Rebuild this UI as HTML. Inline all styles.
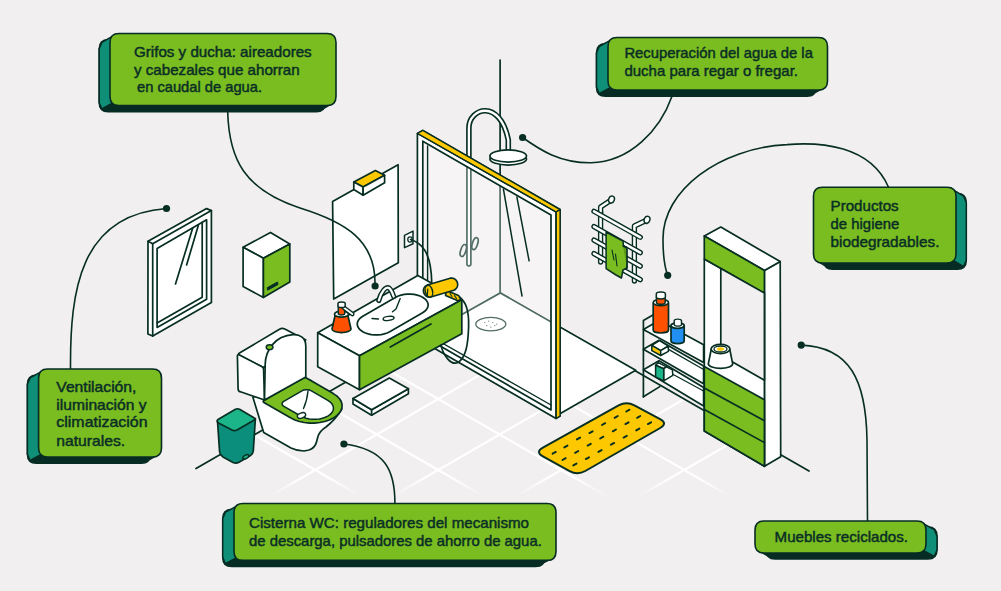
<!DOCTYPE html>
<html><head><meta charset="utf-8"><style>
html,body{margin:0;padding:0;background:#f2eff0;}
svg{display:block;}
text{font-family:"Liberation Sans",sans-serif;font-size:14.6px;fill:#0a2e26;stroke:#0a2e26;stroke-width:0.45px;}
</style></head><body>
<svg width="1001" height="591" viewBox="0 0 1001 591">
<rect width="1001" height="591" fill="#f2eff0"/>
<defs><linearGradient id="fg" x1="0" y1="462" x2="0" y2="497" gradientUnits="userSpaceOnUse"><stop offset="0.45" stop-color="#fff"/><stop offset="1" stop-color="#000"/></linearGradient><mask id="fm" maskUnits="userSpaceOnUse" x="0" y="0" width="1001" height="591"><rect width="1001" height="591" fill="url(#fg)"/></mask><clipPath id="fc"><polygon points="500.3,293 900,523.8 0,581"/></clipPath></defs><g clip-path="url(#fc)"><g stroke="#ffffff" stroke-width="2.2" mask="url(#fm)"><line x1="150" y1="565.4" x2="850" y2="161.3"/><line x1="150" y1="636.4" x2="850" y2="232.3"/><line x1="150" y1="707.4" x2="850" y2="303.3"/><line x1="150" y1="778.4" x2="850" y2="374.3"/><line x1="150" y1="161.6" x2="850" y2="565.7"/><line x1="150" y1="232.6" x2="850" y2="636.7"/><line x1="150" y1="303.6" x2="850" y2="707.7"/><line x1="150" y1="374.6" x2="850" y2="778.7"/></g></g><polyline points="196.0,468.5 500.3,293.0 809.0,471.0" fill="none" stroke="#072e23" stroke-width="1.7" stroke-linejoin="round" stroke-linecap="round" /><polyline points="500.1,60.0 500.1,293.0" fill="none" stroke="#072e23" stroke-width="1.7" stroke-linejoin="round" stroke-linecap="round" /><polygon points="148.0,241.3 206.6,208.6 211.4,210.6 211.4,302.6 152.7,336.1 147.9,333.9" fill="#ffffff" stroke="#072e23" stroke-width="1.7" stroke-linejoin="round" /><polyline points="148.0,241.3 152.7,243.8 211.4,210.6" fill="none" stroke="#072e23" stroke-width="1.7" stroke-linejoin="round" stroke-linecap="round" /><polyline points="152.7,243.8 152.7,336.1" fill="none" stroke="#072e23" stroke-width="1.7" stroke-linejoin="round" stroke-linecap="round" /><polygon points="157.1,248.5 206.6,219.8 206.6,299.2 157.1,327.4" fill="#ffffff" stroke="#072e23" stroke-width="1.7" stroke-linejoin="round" /><polyline points="202.2,222.3 202.2,297.2 157.1,322.9" fill="none" stroke="#072e23" stroke-width="1.7" stroke-linejoin="round" stroke-linecap="round" /><polyline points="192.7,228.0 175.5,284.0" fill="none" stroke="#072e23" stroke-width="1.7" stroke-linejoin="round" stroke-linecap="round" /><polyline points="198.3,225.4 186.6,265.0" fill="none" stroke="#072e23" stroke-width="1.7" stroke-linejoin="round" stroke-linecap="round" /><polygon points="270.5,232.4 243.1,247.3 263.4,258.2 289.8,244.0" fill="#ffffff" stroke="#072e23" stroke-width="1.7" stroke-linejoin="round" /><polygon points="243.1,247.3 263.4,258.2 263.4,297.4 243.1,286.6" fill="#ffffff" stroke="#072e23" stroke-width="1.7" stroke-linejoin="round" /><polygon points="263.4,258.2 289.8,244.0 289.8,281.9 263.4,297.4" fill="#7abd20" stroke="#072e23" stroke-width="1.7" stroke-linejoin="round" /><path d="M267.5,287.5 L277.5,282 L278,284.5 L268,290 Z" fill="#072e23" stroke="#072e23" stroke-width="1" stroke-linejoin="round" stroke-linecap="round" /><polygon points="332.6,201.5 398.1,164.7 398.3,262.7 333.7,299.1" fill="#ffffff" stroke="#072e23" stroke-width="1.7" stroke-linejoin="round" /><polygon points="353.8,182.0 375.4,170.5 384.6,175.2 363.1,187.1" fill="#fdc800" stroke="#072e23" stroke-width="1.7" stroke-linejoin="round" /><polygon points="353.8,182.0 363.1,187.1 363.1,195.2 353.8,189.6" fill="#ffffff" stroke="#072e23" stroke-width="1.7" stroke-linejoin="round" /><polygon points="363.1,187.1 384.6,175.2 384.6,182.8 363.1,195.2" fill="#ffffff" stroke="#072e23" stroke-width="1.7" stroke-linejoin="round" /><polygon points="404.5,235.3 413.0,231.1 413.0,243.8 404.5,247.6" fill="#ffffff" stroke="#072e23" stroke-width="1.5" stroke-linejoin="round" /><ellipse cx="410" cy="239.5" rx="2.2" ry="2.6" transform="rotate(0 410 239.5)" fill="#ffffff" stroke="#072e23" stroke-width="1.3"/><path d="M600.6,212 V262" fill="none" stroke="#072e23" stroke-width="5.3" stroke-linejoin="round" stroke-linecap="round" /><path d="M600.6,212 V262" fill="none" stroke="#ffffff" stroke-width="2.5" stroke-linejoin="round" stroke-linecap="round" /><path d="M634.4,231 V281" fill="none" stroke="#072e23" stroke-width="5.3" stroke-linejoin="round" stroke-linecap="round" /><path d="M634.4,231 V281" fill="none" stroke="#ffffff" stroke-width="2.5" stroke-linejoin="round" stroke-linecap="round" /><path d="M600.6,212 V207 L610.5,200.5" fill="none" stroke="#072e23" stroke-width="5.3" stroke-linejoin="round" stroke-linecap="round" /><path d="M600.6,212 V207 L610.5,200.5" fill="none" stroke="#ffffff" stroke-width="2.5" stroke-linejoin="round" stroke-linecap="round" /><path d="M634.4,231 V226 L646,220.5" fill="none" stroke="#072e23" stroke-width="5.3" stroke-linejoin="round" stroke-linecap="round" /><path d="M634.4,231 V226 L646,220.5" fill="none" stroke="#ffffff" stroke-width="2.5" stroke-linejoin="round" stroke-linecap="round" /><ellipse cx="611.5" cy="199.5" rx="2.8" ry="3.6" transform="rotate(20 611.5 199.5)" fill="#ffffff" stroke="#072e23" stroke-width="1.5"/><ellipse cx="647" cy="219.8" rx="2.8" ry="3.6" transform="rotate(20 647 219.8)" fill="#ffffff" stroke="#072e23" stroke-width="1.5"/><path d="M594,211.3 L640.3,237.3" fill="none" stroke="#072e23" stroke-width="5.3" stroke-linejoin="round" stroke-linecap="round" /><path d="M594,211.3 L640.3,237.3" fill="none" stroke="#ffffff" stroke-width="2.5" stroke-linejoin="round" stroke-linecap="round" /><path d="M594,226.60000000000002 L640.3,252.60000000000002" fill="none" stroke="#072e23" stroke-width="5.3" stroke-linejoin="round" stroke-linecap="round" /><path d="M594,226.60000000000002 L640.3,252.60000000000002" fill="none" stroke="#ffffff" stroke-width="2.5" stroke-linejoin="round" stroke-linecap="round" /><path d="M594,240.10000000000002 L640.3,266.1" fill="none" stroke="#072e23" stroke-width="5.3" stroke-linejoin="round" stroke-linecap="round" /><path d="M594,240.10000000000002 L640.3,266.1" fill="none" stroke="#ffffff" stroke-width="2.5" stroke-linejoin="round" stroke-linecap="round" /><path d="M594,253.60000000000002 L640.3,279.6" fill="none" stroke="#072e23" stroke-width="5.3" stroke-linejoin="round" stroke-linecap="round" /><path d="M594,253.60000000000002 L640.3,279.6" fill="none" stroke="#ffffff" stroke-width="2.5" stroke-linejoin="round" stroke-linecap="round" /><path d="M606.1,232 L623,241 L623.5,246 L626.5,247.5 L627,268 L623,270 L621.4,278 L616,275 L606.1,268.6 Z" fill="#7abd20" stroke="#072e23" stroke-width="1.5" stroke-linejoin="round" stroke-linecap="round" /><path d="M623,246 L627,248 L627,268" fill="#5a9a18" stroke="#072e23" stroke-width="1.5" stroke-linejoin="round" stroke-linecap="round" /><polyline points="612.0,250.0 614.0,260.0" fill="none" stroke="#072e23" stroke-width="1.1" stroke-linejoin="round" stroke-linecap="round" /><polyline points="615.5,254.0 617.0,266.0" fill="none" stroke="#072e23" stroke-width="1.1" stroke-linejoin="round" stroke-linecap="round" /><polygon points="500.3,293.0 635.7,370.2 556.0,416.0 420.0,338.0" fill="#ffffff" stroke="#072e23" stroke-width="1.7" stroke-linejoin="round" /><path d="M468.9,264 V128 C468.9,108 500,98 508.3,140 V156" fill="none" stroke="#072e23" stroke-width="5.6" stroke-linejoin="round" stroke-linecap="round" /><path d="M468.9,264 V128 C468.9,108 500,98 508.3,140 V156" fill="none" stroke="#ffffff" stroke-width="2.3" stroke-linejoin="round" stroke-linecap="round" /><ellipse cx="508.2" cy="159" rx="18.3" ry="6.1" transform="rotate(0 508.2 159)" fill="#ffffff" stroke="#072e23" stroke-width="1.7"/><ellipse cx="508.2" cy="156" rx="18.3" ry="6.1" transform="rotate(0 508.2 156)" fill="#ffffff" stroke="#072e23" stroke-width="1.7"/><ellipse cx="463.3" cy="250.5" rx="2.6" ry="6.2" transform="rotate(18 463.3 250.5)" fill="none" stroke="#072e23" stroke-width="1.7"/><ellipse cx="475" cy="243.6" rx="2.6" ry="6.2" transform="rotate(18 475 243.6)" fill="none" stroke="#072e23" stroke-width="1.7"/><ellipse cx="490.8" cy="324.1" rx="15" ry="6.8" transform="rotate(0 490.8 324.1)" fill="#ffffff" stroke="#072e23" stroke-width="1.3"/><circle cx="484.8" cy="322.6" r="0.6" fill="#072e23"/><circle cx="488.8" cy="321.1" r="0.6" fill="#072e23"/><circle cx="492.8" cy="322.6" r="0.6" fill="#072e23"/><circle cx="496.8" cy="324.1" r="0.6" fill="#072e23"/><circle cx="486.8" cy="325.6" r="0.6" fill="#072e23"/><circle cx="490.8" cy="327.1" r="0.6" fill="#072e23"/><circle cx="494.8" cy="325.6" r="0.6" fill="#072e23"/><polygon points="422.8,141.2 551.0,215.0 551.0,410.0 422.8,336.0" fill="#ffffff" fill-opacity="0.3"/><path d="M417.4,133.5 L422.8,130.4 L560.1,209.6 L560.1,416.0 L556.0,418.5 L417.4,338.5 Z M422.8,141.2 L551.0,215.0 L551.0,410.0 L422.8,336.0 Z" fill="#fff" fill-rule="evenodd" stroke="#072e23" stroke-width="1.7" stroke-linejoin="round"/><polygon points="417.4,133.5 422.8,130.4 560.1,209.6 556.0,212.0" fill="#fdc800" stroke="#072e23" stroke-width="1.4" stroke-linejoin="round" /><polygon points="556.0,212.0 560.1,209.6 560.1,416.0 556.0,418.5" fill="#fdc800" stroke="#072e23" stroke-width="1.4" stroke-linejoin="round" /><polyline points="417.4,133.5 556.0,212.0 556.0,418.5" fill="none" stroke="#072e23" stroke-width="1.4" stroke-linejoin="round" stroke-linecap="round" /><polyline points="427.6,146.0 427.6,338.0" fill="none" stroke="#072e23" stroke-width="1.4" stroke-linejoin="round" stroke-linecap="round" /><polyline points="422.8,332.0 551.0,405.0" fill="none" stroke="#072e23" stroke-width="1.4" stroke-linejoin="round" stroke-linecap="round" /><polyline points="503.4,189.0 522.0,296.0" fill="none" stroke="#072e23" stroke-width="1.5" stroke-linejoin="round" stroke-linecap="round" /><polyline points="516.9,197.1 529.1,260.8" fill="none" stroke="#072e23" stroke-width="1.5" stroke-linejoin="round" stroke-linecap="round" /><polyline points="643.4,396.8 643.4,320.6 659.0,311.6" fill="none" stroke="#072e23" stroke-width="1.7" stroke-linejoin="round" stroke-linecap="round" /><polyline points="643.4,396.8 659.8,386.6" fill="none" stroke="#072e23" stroke-width="1.7" stroke-linejoin="round" stroke-linecap="round" /><polygon points="643.4,329.5 659.0,320.5 703.6,344.7 703.6,362.4" fill="#ffffff" stroke="#072e23" stroke-width="1.7" stroke-linejoin="round" /><polygon points="643.4,349.3 659.0,340.3 703.6,366.0 703.6,383.8" fill="#ffffff" stroke="#072e23" stroke-width="1.7" stroke-linejoin="round" /><polygon points="643.4,369.8 659.0,360.8 703.6,387.5 703.6,406.0" fill="#ffffff" stroke="#072e23" stroke-width="1.7" stroke-linejoin="round" /><polyline points="669.0,349.6 703.6,369.5" fill="none" stroke="#072e23" stroke-width="1.3" stroke-linejoin="round" stroke-linecap="round" /><polyline points="672.8,374.3 703.6,391.0" fill="none" stroke="#072e23" stroke-width="1.3" stroke-linejoin="round" stroke-linecap="round" /><path d="M653.2,303.5 V330 A7.65,3 0 0 0 668.5,330 V303.5 Z" fill="#fd5000" stroke="#072e23" stroke-width="1.7" stroke-linejoin="round" stroke-linecap="round" /><ellipse cx="660.85" cy="302.5" rx="7.65" ry="3.2" transform="rotate(0 660.85 302.5)" fill="#ffffff" stroke="#072e23" stroke-width="1.7"/><path d="M656.5,302.5 V297 H665.2 V302.5 A4.35,1.8 0 0 1 656.5,302.5 Z" fill="#fd5000" stroke="#072e23" stroke-width="1.5" stroke-linejoin="round" stroke-linecap="round" /><path d="M656.3,297 V294 A4.55,1.9 0 0 1 665.4,294 V297 A4.55,1.9 0 0 1 656.3,297 Z" fill="#ffffff" stroke="#072e23" stroke-width="1.5" stroke-linejoin="round" stroke-linecap="round" /><path d="M671,326 V341 A6.6,2.6 0 0 0 684.2,341 V326 Z" fill="#2290f2" stroke="#072e23" stroke-width="1.7" stroke-linejoin="round" stroke-linecap="round" /><ellipse cx="677.6" cy="325.6" rx="6.6" ry="2.8" transform="rotate(0 677.6 325.6)" fill="#ffffff" stroke="#072e23" stroke-width="1.7"/><path d="M674.2,324.8 V320.5 A3.7,1.6 0 0 1 681.5,320.5 V324.8 A3.7,1.6 0 0 1 674.2,324.8 Z" fill="#ffffff" stroke="#072e23" stroke-width="1.4" stroke-linejoin="round" stroke-linecap="round" /><polygon points="651.8,345.4 659.5,340.7 668.4,346.0 660.7,350.7" fill="#ffffff" stroke="#072e23" stroke-width="1.5" stroke-linejoin="round" /><polygon points="651.8,345.4 660.7,350.7 660.7,355.5 651.8,350.7" fill="#fdc800" stroke="#072e23" stroke-width="1.5" stroke-linejoin="round" /><polygon points="660.7,350.7 668.4,346.0 668.4,351.3 660.7,355.5" fill="#ffffff" stroke="#072e23" stroke-width="1.5" stroke-linejoin="round" /><polygon points="655.6,365.2 658.3,362.6 666.5,366.8 663.7,368.7" fill="#ffffff" stroke="#072e23" stroke-width="1.5" stroke-linejoin="round" /><polygon points="663.7,368.7 666.5,366.8 672.4,369.8 672.8,375.4 663.7,380.9" fill="#ffffff" stroke="#072e23" stroke-width="1.5" stroke-linejoin="round" /><polygon points="655.6,365.2 663.7,368.7 663.7,380.9 655.6,376.8" fill="#1cb58a" stroke="#072e23" stroke-width="1.5" stroke-linejoin="round" /><polygon points="764.4,270.4 780.2,261.6 780.7,456.8 764.5,466.3" fill="#ffffff" stroke="#072e23" stroke-width="1.7" stroke-linejoin="round" /><polygon points="704.3,235.9 720.8,227.1 780.2,261.6 764.4,270.4" fill="#ffffff" stroke="#072e23" stroke-width="1.7" stroke-linejoin="round" /><polygon points="704.3,259.0 764.4,293.1 764.4,466.3 704.3,431.0" fill="#ffffff" stroke="#072e23" stroke-width="1.7" stroke-linejoin="round" /><polygon points="704.3,235.9 764.4,270.4 764.4,293.1 704.3,259.0" fill="#7abd20" stroke="#072e23" stroke-width="1.7" stroke-linejoin="round" /><polygon points="720.8,268.4 764.4,293.1 764.4,380.3 720.8,355.3" fill="#f2eff0" stroke="#072e23" stroke-width="1.7" stroke-linejoin="round"/><polygon points="704.3,366.5 764.4,399.7 764.4,466.3 704.3,431.0" fill="#7abd20" stroke="#072e23" stroke-width="1.7" stroke-linejoin="round" /><polyline points="704.3,388.0 764.4,420.7" fill="none" stroke="#072e23" stroke-width="1.7" stroke-linejoin="round" stroke-linecap="round" /><polyline points="704.3,409.6 764.4,442.6" fill="none" stroke="#072e23" stroke-width="1.7" stroke-linejoin="round" stroke-linecap="round" /><path d="M711.3,349 L708.3,363.8 A12.2,4.5 0 0 0 732.7,363.8 L729.7,349 Z" fill="#ffffff" stroke="#072e23" stroke-width="1.7" stroke-linejoin="round" stroke-linecap="round" /><ellipse cx="720.5" cy="349" rx="9.4" ry="4.6" transform="rotate(0 720.5 349)" fill="#ffffff" stroke="#072e23" stroke-width="1.7"/><ellipse cx="720.5" cy="349" rx="6.5" ry="3.0" transform="rotate(0 720.5 349)" fill="#ffffff" stroke="#072e23" stroke-width="1.3"/><ellipse cx="720.5" cy="349" rx="3.6" ry="1.8" transform="rotate(0 720.5 349)" fill="#fdc800" stroke="none" stroke-width="1.7"/><path d="M542.9,456.4 Q535.0,452.0 542.9,447.6 L618.6,405.4 Q626.5,401.0 634.4,405.3 L660.1,419.2 Q668.0,423.5 660.2,428.0 L585.3,471.0 Q577.5,475.5 569.6,471.1 Z" fill="#fdc800" stroke="#072e23" stroke-width="1.9" stroke-linejoin="round" stroke-linecap="round" /><polyline points="626.3,411.5 629.5,409.7" fill="none" stroke="#072e23" stroke-width="1.9" stroke-linejoin="round" stroke-linecap="round" /><polyline points="614.6,417.8 617.8,416.0" fill="none" stroke="#072e23" stroke-width="1.9" stroke-linejoin="round" stroke-linecap="round" /><polyline points="602.0,425.0 605.2,423.2" fill="none" stroke="#072e23" stroke-width="1.9" stroke-linejoin="round" stroke-linecap="round" /><polyline points="589.4,433.1 592.6,431.3" fill="none" stroke="#072e23" stroke-width="1.9" stroke-linejoin="round" stroke-linecap="round" /><polyline points="576.9,439.4 580.1,437.6" fill="none" stroke="#072e23" stroke-width="1.9" stroke-linejoin="round" stroke-linecap="round" /><polyline points="564.3,447.4 567.5,445.6" fill="none" stroke="#072e23" stroke-width="1.9" stroke-linejoin="round" stroke-linecap="round" /><polyline points="552.6,453.7 555.8,451.9" fill="none" stroke="#072e23" stroke-width="1.9" stroke-linejoin="round" stroke-linecap="round" /><polyline points="637.1,417.8 640.3,416.0" fill="none" stroke="#072e23" stroke-width="1.9" stroke-linejoin="round" stroke-linecap="round" /><polyline points="625.4,424.1 628.6,422.3" fill="none" stroke="#072e23" stroke-width="1.9" stroke-linejoin="round" stroke-linecap="round" /><polyline points="612.8,431.3 616.0,429.5" fill="none" stroke="#072e23" stroke-width="1.9" stroke-linejoin="round" stroke-linecap="round" /><polyline points="600.2,438.5 603.4,436.7" fill="none" stroke="#072e23" stroke-width="1.9" stroke-linejoin="round" stroke-linecap="round" /><polyline points="587.6,445.6 590.8,443.8" fill="none" stroke="#072e23" stroke-width="1.9" stroke-linejoin="round" stroke-linecap="round" /><polyline points="575.1,452.8 578.3,451.0" fill="none" stroke="#072e23" stroke-width="1.9" stroke-linejoin="round" stroke-linecap="round" /><polyline points="562.5,460.0 565.7,458.2" fill="none" stroke="#072e23" stroke-width="1.9" stroke-linejoin="round" stroke-linecap="round" /><polyline points="647.9,424.1 651.1,422.3" fill="none" stroke="#072e23" stroke-width="1.9" stroke-linejoin="round" stroke-linecap="round" /><polyline points="636.2,430.4 639.4,428.6" fill="none" stroke="#072e23" stroke-width="1.9" stroke-linejoin="round" stroke-linecap="round" /><polyline points="623.6,437.6 626.8,435.8" fill="none" stroke="#072e23" stroke-width="1.9" stroke-linejoin="round" stroke-linecap="round" /><polyline points="611.0,444.7 614.2,442.9" fill="none" stroke="#072e23" stroke-width="1.9" stroke-linejoin="round" stroke-linecap="round" /><polyline points="598.4,451.9 601.6,450.1" fill="none" stroke="#072e23" stroke-width="1.9" stroke-linejoin="round" stroke-linecap="round" /><polyline points="585.8,459.1 589.0,457.3" fill="none" stroke="#072e23" stroke-width="1.9" stroke-linejoin="round" stroke-linecap="round" /><polyline points="573.3,465.4 576.5,463.6" fill="none" stroke="#072e23" stroke-width="1.9" stroke-linejoin="round" stroke-linecap="round" /><path d="M217.5,421 L219.6,452 Q220,455 223,457 L233,462.5 Q236,464 239,462.3 L250.5,455.5 Q253,454 253.3,451 L255.4,418.5 Z" fill="#0c8e7c" stroke="#072e23" stroke-width="1.7" stroke-linejoin="round" stroke-linecap="round" /><path d="M218,419.5 Q216,421 218.5,423 L232,430 Q234.5,431.3 237,430 L253.5,420.5 Q256,419 253.5,417.5 L240,409.5 Q237.5,408 235,409.5 Z" fill="#1cb58a" stroke="#072e23" stroke-width="1.7" stroke-linejoin="round" stroke-linecap="round" /><ellipse cx="245.8" cy="456.8" rx="3.2" ry="1.7" transform="rotate(-28 245.8 456.8)" fill="#1cb58a" stroke="#072e23" stroke-width="1.4"/><path d="M252.9,397.3 L263.7,432.6 L291,448 Q297,451 304,451 L309,450 Q315,448 316.5,442 L317.8,437 Q319.5,431 326,427 Q336,419 341.8,409 L310,380 Z" fill="#ffffff" stroke="#072e23" stroke-width="1.7" stroke-linejoin="round" stroke-linecap="round" /><polygon points="263.9,402.5 263.5,402.1 263.2,401.7 263.2,401.3 263.5,400.9 263.9,400.5 302.9,378.0 303.5,377.7 304.3,377.6 305.0,377.6 305.7,377.7 306.4,378.0 333.3,393.6 336.7,395.9 339.3,398.5 341.1,401.3 342.0,404.3 342.0,407.3 341.1,410.3 339.3,413.1 336.7,415.7 333.3,418.1 329.3,420.0 324.8,421.5 319.8,422.5 314.7,423.1 309.5,423.1 304.3,422.5 299.4,421.5 294.9,420.0 290.9,418.1" fill="#7abd20" stroke="#072e23" stroke-width="1.7" stroke-linejoin="round" /><polygon points="283.9,406.3 282.7,405.4 282.1,404.4 282.1,403.2 282.7,402.2 283.8,401.3 302.3,390.6 303.8,390.0 305.7,389.7 307.6,389.7 309.4,390.0 311.0,390.6 327.8,400.4 330.0,401.9 331.7,403.5 332.8,405.4 333.4,407.3 333.4,409.2 332.8,411.1 331.7,412.9 330.0,414.6 327.8,416.1 325.3,417.3 322.4,418.3 319.3,418.9 316.0,419.2 312.6,419.2 309.3,418.9 306.2,418.3 303.3,417.3 300.7,416.0" fill="#ffffff" stroke="#072e23" stroke-width="1.5" stroke-linejoin="round" /><path d="M308,391 Q307,401 303.5,408.5" fill="none" stroke="#072e23" stroke-width="1.4" stroke-linejoin="round" stroke-linecap="round" /><ellipse cx="301.5" cy="415.5" rx="4.3" ry="2.5" transform="rotate(-20 301.5 415.5)" fill="#ffffff" stroke="#072e23" stroke-width="1.4"/><path d="M239.5,353 L279.5,329.2 Q282.1,327.7 284.8,329.1 L305.8,339.9 L263.5,367.5 L240,355.4 Q237.4,354.1 239.5,353 Z" fill="#ffffff" stroke="#072e23" stroke-width="1.7" stroke-linejoin="round" stroke-linecap="round" /><path d="M237.4,356 Q237.4,354.1 239.5,355 L262,366.8 Q263.5,367.5 263.6,369.5 L264.5,400 L240.5,391.8 Q238.1,391.3 238.1,389 Z" fill="#ffffff" stroke="#072e23" stroke-width="1.7" stroke-linejoin="round" stroke-linecap="round" /><path d="M264.5,400 L265.2,364.3 C265.5,350 275,336 292.9,334.7 C300,334.2 305.8,338 305.8,346 L305.8,377 Z" fill="#ffffff" stroke="#072e23" stroke-width="1.7" stroke-linejoin="round" stroke-linecap="round" /><ellipse cx="269.6" cy="347.2" rx="3.4" ry="2.4" transform="rotate(0 269.6 347.2)" fill="#7abd20" stroke="#072e23" stroke-width="1.4"/><polygon points="317.7,332.7 359.5,355.8 461.8,299.7 417.8,275.5" fill="#ffffff" stroke="#072e23" stroke-width="1.7" stroke-linejoin="round" /><polygon points="317.7,332.7 359.5,355.8 359.5,389.7 317.7,366.8" fill="#ffffff" stroke="#072e23" stroke-width="1.7" stroke-linejoin="round" /><polygon points="359.5,355.8 461.8,299.7 461.8,333.8 359.5,389.7" fill="#7abd20" stroke="#072e23" stroke-width="1.7" stroke-linejoin="round" /><polyline points="390.3,347.0 431.0,323.9" fill="none" stroke="#072e23" stroke-width="1.7" stroke-linejoin="round" stroke-linecap="round" /><polygon points="395.7,297.2 398.3,296.0 401.1,295.1 404.2,294.4 407.5,294.1 410.8,294.1 414.1,294.4 417.2,295.1 420.0,296.0 422.6,297.2 424.7,298.7 426.4,300.4 427.5,302.2 428.1,304.0 428.1,306.0 427.5,307.8 426.4,309.6 424.7,311.3 422.6,312.8 389.7,331.8 387.1,333.0 384.3,333.9 381.2,334.6 377.9,334.9 374.6,334.9 371.3,334.6 368.2,333.9 365.4,333.0 362.8,331.8 360.7,330.3 359.0,328.6 357.9,326.8 357.3,325.0 357.3,323.0 357.9,321.2 359.0,319.4 360.7,317.7 362.8,316.2" fill="#ffffff" stroke="#072e23" stroke-width="1.7" stroke-linejoin="round" /><polyline points="400.2,298.6 396.0,309.0 392.5,311.8" fill="none" stroke="#072e23" stroke-width="1.4" stroke-linejoin="round" stroke-linecap="round" /><ellipse cx="388.6" cy="318.4" rx="5.5" ry="2" transform="rotate(-8 388.6 318.4)" fill="none" stroke="#072e23" stroke-width="1.4"/><polyline points="372.0,318.5 378.5,319.0" fill="none" stroke="#072e23" stroke-width="1.4" stroke-linejoin="round" stroke-linecap="round" /><path d="M378.8,300.5 C381,292 386,286 389,288 C391,289.5 392.5,293 393.7,296.5" fill="none" stroke="#072e23" stroke-width="5.2" stroke-linejoin="round" stroke-linecap="round" /><path d="M378.8,300.5 C381,292 386,286 389,288 C391,289.5 392.5,293 393.7,296.5" fill="none" stroke="#ffffff" stroke-width="2.2" stroke-linejoin="round" stroke-linecap="round" /><path d="M335.2,315 L332,329 A9.5,3.6 0 0 0 351,329 L347.8,315 Z" fill="#fd5000" stroke="#072e23" stroke-width="1.7" stroke-linejoin="round" stroke-linecap="round" /><ellipse cx="341.5" cy="314.2" rx="7" ry="3.0" transform="rotate(0 341.5 314.2)" fill="#ffffff" stroke="#072e23" stroke-width="1.7"/><path d="M338.3,313.5 V306 H344.7 V313.5 A3.2,1.4 0 0 1 338.3,313.5 Z" fill="#fd5000" stroke="#072e23" stroke-width="1.5" stroke-linejoin="round" stroke-linecap="round" /><path d="M344,307.8 L352.3,314" fill="none" stroke="#072e23" stroke-width="4.6" stroke-linejoin="round" stroke-linecap="round" /><path d="M344,307.8 L352.3,314" fill="none" stroke="#ffffff" stroke-width="1.8" stroke-linejoin="round" stroke-linecap="round" /><path d="M338,306 V303.5 A3.6,1.6 0 0 1 345.2,303.5 V306 A3.6,1.6 0 0 1 338,306 Z" fill="#ffffff" stroke="#072e23" stroke-width="1.5" stroke-linejoin="round" stroke-linecap="round" /><path d="M410.5,239.5 C422,243 431,252 431.7,282" fill="none" stroke="#072e23" stroke-width="1.7" stroke-linejoin="round" stroke-linecap="round" /><path d="M446.5,290.5 L458.5,295.5 L461.5,299 L458,300.8 L445.5,295.5 Z" fill="#fdc800" stroke="#072e23" stroke-width="1.6" stroke-linejoin="round" stroke-linecap="round" /><polyline points="450.0,293.5 452.0,296.5" fill="none" stroke="#072e23" stroke-width="1.1" stroke-linejoin="round" stroke-linecap="round" /><polyline points="454.5,295.5 456.5,298.5" fill="none" stroke="#072e23" stroke-width="1.1" stroke-linejoin="round" stroke-linecap="round" /><path d="M427.2,285 L450.2,278.2 A6.3,6.3 0 0 1 453.8,290.2 L430.8,297 A6.3,6.3 0 0 1 427.2,285 Z" fill="#fdc800" stroke="#072e23" stroke-width="1.7" stroke-linejoin="round" stroke-linecap="round" /><ellipse cx="428.9" cy="291.2" rx="3.6" ry="6.0" transform="rotate(-16 428.9 291.2)" fill="#fdc800" stroke="#072e23" stroke-width="1.5"/><polyline points="427.8,289.0 427.3,295.5" fill="none" stroke="#072e23" stroke-width="1.2" stroke-linejoin="round" stroke-linecap="round" /><path d="M459.5,297.5 C467,302 469,315 468.6,327 C468,345 466,357 458,362.5 C451,366 443,355 441,345.2" fill="none" stroke="#072e23" stroke-width="1.7" stroke-linejoin="round" stroke-linecap="round" /><polygon points="353.0,398.5 353.0,404.1 371.6,415.2 408.4,393.8 408.4,388.7 371.6,409.7" fill="#ffffff" stroke="#072e23" stroke-width="1.7" stroke-linejoin="round" /><polygon points="353.0,398.5 389.3,378.0 408.4,388.7 371.6,409.7" fill="#ffffff" stroke="#072e23" stroke-width="1.7" stroke-linejoin="round" /><polyline points="371.6,409.7 371.6,415.2" fill="none" stroke="#072e23" stroke-width="1.7" stroke-linejoin="round" stroke-linecap="round" /><path d="M227.7,112 C229,160 245,190 300,208 C345,222 376,240 375,285" fill="none" stroke="#072e23" stroke-width="1.6" stroke-linecap="round" stroke-linejoin="round"/><circle cx="375.1" cy="286" r="3.6" fill="#072e23"/><path d="M671.9,96.5 C660,130 630,162 591,162.7 C560,163 540,150 522.6,137.5" fill="none" stroke="#072e23" stroke-width="1.6" stroke-linecap="round" stroke-linejoin="round"/><circle cx="522.6" cy="137.5" r="3.6" fill="#072e23"/><path d="M888.4,187 C870,145 820,142 787,144.6 C720,148 662,190 663,240 C663,255 665,268 667.7,275.3" fill="none" stroke="#072e23" stroke-width="1.6" stroke-linecap="round" stroke-linejoin="round"/><circle cx="667.7" cy="275.3" r="3.6" fill="#072e23"/><path d="M70.5,369 C70,290 80,215 166.5,208.5" fill="none" stroke="#072e23" stroke-width="1.6" stroke-linecap="round" stroke-linejoin="round"/><circle cx="166.5" cy="208.5" r="3.6" fill="#072e23"/><path d="M394.9,503.5 C395,470 385,449 343.9,444" fill="none" stroke="#072e23" stroke-width="1.6" stroke-linecap="round" stroke-linejoin="round"/><circle cx="343.9" cy="444" r="3.6" fill="#072e23"/><path d="M867.5,521 L867,440 C866,380 850,347 801.2,345.1" fill="none" stroke="#072e23" stroke-width="1.6" stroke-linecap="round" stroke-linejoin="round"/><circle cx="801.2" cy="345.1" r="3.6" fill="#072e23"/><g><path d="M108.2,39.7 H316.2 Q325.2,39.7 325.2,48.7 V102.7 Q325.2,111.7 316.2,111.7 H108.2 Q99.2,111.7 99.2,102.7 V48.7 Q99.2,39.7 108.2,39.7 Z" fill="#062c24" stroke="#062c24" stroke-width="1.5"/><polygon points="112.7,102.8 333.3,102.8 322.5,109.0 101.9,109.0" fill="#062c24" stroke="#062c24" stroke-width="1.5" stroke-linejoin="round"/><polygon points="112.7,36.2 101.9,42.400000000000006 99.2,48.7 99.2,102.7 101.9,109.0 112.7,102.8" fill="#0f8e78" stroke="#062c24" stroke-width="1.5" stroke-linejoin="round"/><path d="M119,33.5 H327 Q336,33.5 336,42.5 V96.5 Q336,105.5 327,105.5 H119 Q110,105.5 110,96.5 V42.5 Q110,33.5 119,33.5 Z" fill="#7abd20" stroke="#062c24" stroke-width="1.6"/><text x="134" y="57" textLength="177.7" lengthAdjust="spacingAndGlyphs">Grifos&#160;y&#160;ducha:&#160;aireadores</text><text x="134" y="74.5" textLength="165.7" lengthAdjust="spacingAndGlyphs">y&#160;cabezales&#160;que&#160;ahorran</text><text x="137" y="92" textLength="125" lengthAdjust="spacingAndGlyphs">en&#160;caudal&#160;de&#160;agua.</text></g><g><path d="M605.5,43.8 H807.0 Q816.0,43.8 816.0,52.8 V87.3 Q816.0,96.3 807.0,96.3 H605.5 Q596.5,96.3 596.5,87.3 V52.8 Q596.5,43.8 605.5,43.8 Z" fill="#062c24" stroke="#062c24" stroke-width="1.5"/><polygon points="610.7,87.3 824.8,87.3 813.3,93.6 599.2,93.6" fill="#062c24" stroke="#062c24" stroke-width="1.5" stroke-linejoin="round"/><polygon points="610.7,40.2 599.2,46.5 596.5,52.8 596.5,87.3 599.2,93.6 610.7,87.3" fill="#0f8e78" stroke="#062c24" stroke-width="1.5" stroke-linejoin="round"/><path d="M617,37.5 H818.5 Q827.5,37.5 827.5,46.5 V81.0 Q827.5,90.0 818.5,90.0 H617 Q608,90.0 608,81.0 V46.5 Q608,37.5 617,37.5 Z" fill="#7abd20" stroke="#062c24" stroke-width="1.6"/><text x="624.4" y="58.3" textLength="188.5" lengthAdjust="spacingAndGlyphs">Recuperación&#160;del&#160;agua&#160;de&#160;la</text><text x="624.4" y="76" textLength="173.6" lengthAdjust="spacingAndGlyphs">ducha&#160;para&#160;regar&#160;o&#160;fregar.</text></g><g><path d="M832.8,193.5 H957.3 Q966.3,193.5 966.3,202.5 V260.3 Q966.3,269.3 957.3,269.3 H832.8 Q823.8,269.3 823.8,260.3 V202.5 Q823.8,193.5 832.8,193.5 Z" fill="#062c24" stroke="#062c24" stroke-width="1.5"/><polygon points="816.2,260.3 953.3,260.3 963.5999999999999,266.6 826.5,266.6" fill="#062c24" stroke="#062c24" stroke-width="1.5" stroke-linejoin="round"/><polygon points="953.3,189.89999999999998 963.5999999999999,196.2 966.3,202.5 966.3,260.3 963.5999999999999,266.6 953.3,260.3" fill="#0f8e78" stroke="#062c24" stroke-width="1.5" stroke-linejoin="round"/><path d="M822.5,187.2 H947.0 Q956.0,187.2 956.0,196.2 V254.0 Q956.0,263.0 947.0,263.0 H822.5 Q813.5,263.0 813.5,254.0 V196.2 Q813.5,187.2 822.5,187.2 Z" fill="#7abd20" stroke="#062c24" stroke-width="1.6"/><text x="830.6" y="211" textLength="68" lengthAdjust="spacingAndGlyphs">Productos</text><text x="830.6" y="229" textLength="68.7" lengthAdjust="spacingAndGlyphs">de&#160;higiene</text><text x="830.6" y="247" textLength="108.8" lengthAdjust="spacingAndGlyphs">biodegradables.</text></g><g><path d="M36.400000000000006,375.2 H141.3 Q150.3,375.2 150.3,384.2 V454.2 Q150.3,463.2 141.3,463.2 H36.400000000000006 Q27.400000000000002,463.2 27.400000000000002,454.2 V384.2 Q27.400000000000002,375.2 36.400000000000006,375.2 Z" fill="#062c24" stroke="#062c24" stroke-width="1.5"/><polygon points="41.300000000000004,454.3 158.8,454.3 147.60000000000002,460.5 30.1,460.5" fill="#062c24" stroke="#062c24" stroke-width="1.5" stroke-linejoin="round"/><polygon points="41.300000000000004,371.7 30.1,377.9 27.400000000000002,384.2 27.400000000000002,454.2 30.1,460.5 41.300000000000004,454.3" fill="#0f8e78" stroke="#062c24" stroke-width="1.5" stroke-linejoin="round"/><path d="M47.6,369 H152.5 Q161.5,369 161.5,378 V448 Q161.5,457 152.5,457 H47.6 Q38.6,457 38.6,448 V378 Q38.6,369 47.6,369 Z" fill="#7abd20" stroke="#062c24" stroke-width="1.6"/><text x="56.3" y="391.7" textLength="80.1" lengthAdjust="spacingAndGlyphs">Ventilación,</text><text x="56.3" y="409.6" textLength="90.3" lengthAdjust="spacingAndGlyphs">iluminación&#160;y</text><text x="56.3" y="427.4" textLength="91.3" lengthAdjust="spacingAndGlyphs">climatización</text><text x="56.3" y="445.5" textLength="68.9" lengthAdjust="spacingAndGlyphs">naturales.</text></g><g><path d="M231.7,509.5 H535.7 Q544.7,509.5 544.7,518.5 V557.4 Q544.7,566.4 535.7,566.4 H231.7 Q222.7,566.4 222.7,557.4 V518.5 Q222.7,509.5 231.7,509.5 Z" fill="#062c24" stroke="#062c24" stroke-width="1.5"/><polygon points="236.7,557.6999999999999 553.3,557.6999999999999 542.0,563.6999999999999 225.39999999999998,563.6999999999999" fill="#062c24" stroke="#062c24" stroke-width="1.5" stroke-linejoin="round"/><polygon points="236.7,506.2 225.39999999999998,512.2 222.7,518.5 222.7,557.4 225.39999999999998,563.6999999999999 236.7,557.6999999999999" fill="#0f8e78" stroke="#062c24" stroke-width="1.5" stroke-linejoin="round"/><path d="M243,503.5 H547 Q556,503.5 556,512.5 V551.4 Q556,560.4 547,560.4 H243 Q234,560.4 234,551.4 V512.5 Q234,503.5 243,503.5 Z" fill="#7abd20" stroke="#062c24" stroke-width="1.6"/><text x="249" y="527.6" textLength="280" lengthAdjust="spacingAndGlyphs">Cisterna&#160;WC:&#160;reguladores&#160;del&#160;mecanismo</text><text x="249" y="545.6" textLength="292.8" lengthAdjust="spacingAndGlyphs">de&#160;descarga,&#160;pulsadores&#160;de&#160;ahorro&#160;de&#160;agua.</text></g><g><path d="M775,527.0 H928 Q937,527.0 937,536.0 V550.0 Q937,559.0 928,559.0 H775 Q766,559.0 766,550.0 V536.0 Q766,527.0 775,527.0 Z" fill="#062c24" stroke="#062c24" stroke-width="1.5"/><polygon points="757.7,550.3 923.3,550.3 934.3,556.3 768.7,556.3" fill="#062c24" stroke="#062c24" stroke-width="1.5" stroke-linejoin="round"/><polygon points="923.3,523.7 934.3,529.7 937,536.0 937,550.0 934.3,556.3 923.3,550.3" fill="#0f8e78" stroke="#062c24" stroke-width="1.5" stroke-linejoin="round"/><path d="M764,521 H917 Q926,521 926,530 V544 Q926,553 917,553 H764 Q755,553 755,544 V530 Q755,521 764,521 Z" fill="#7abd20" stroke="#062c24" stroke-width="1.6"/><text x="774.6" y="542.4" textLength="133.4" lengthAdjust="spacingAndGlyphs">Muebles&#160;reciclados.</text></g>
</svg></body></html>
